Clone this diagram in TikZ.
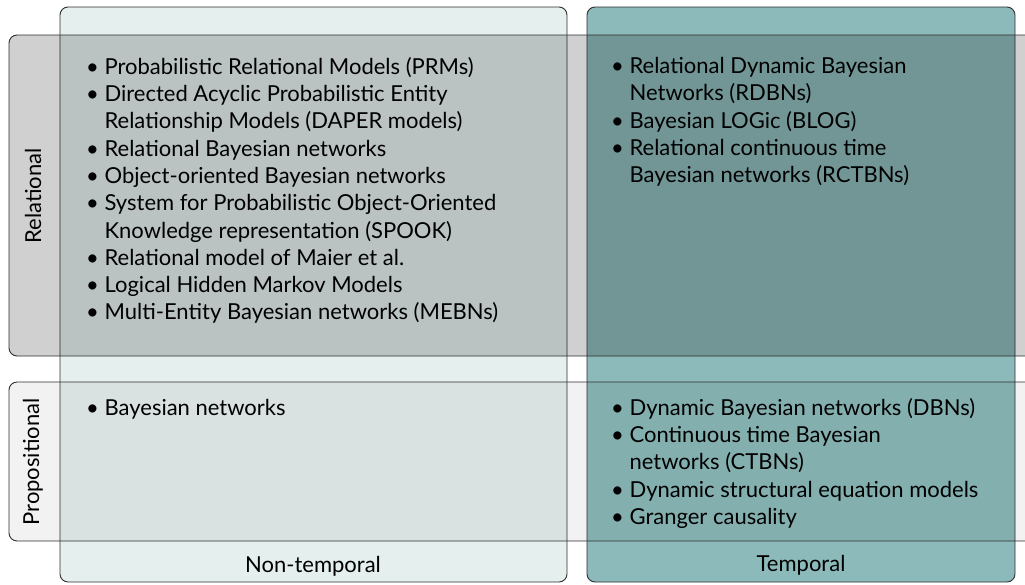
\documentclass[tikz,border=0pt]{standalone}
\usepackage{fontspec}
\setmainfont{Lato}
\definecolor{nontempfill}{HTML}{E5EFEE}
\definecolor{tempfill}{HTML}{8CB9B9}
\definecolor{relfill}{HTML}{D0D0D0}
\definecolor{propfill}{HTML}{F2F2F2}
\definecolor{edgegray}{HTML}{2E2E2E}
\newcommand{\itm}{\textbullet\ }
\newcommand{\cont}{\hphantom{\textbullet\ }}
\tikzset{
  panel/.style={draw=edgegray, line width=0.9pt, rounded corners=8pt},
  itemlist/.style={anchor=north west, align=left, inner sep=0pt,
    font=\fontsize{22}{27.3}\selectfont},
  axislabel/.style={inner sep=0pt, font=\fontsize{22}{26}\selectfont}
}
\begin{document}
\begin{tikzpicture}[x=1pt,y=-1pt]
\useasboundingbox (0,0) rectangle (1025,584);
% columns
\draw[panel, fill=nontempfill] (60,7) rectangle (567,582);
\draw[panel, fill=tempfill] (587,7) rectangle (1015,582);
% rows, laid over the columns
\begin{scope}[blend mode=multiply]
\fill[relfill, rounded corners=8pt] (9,35) rectangle (1045,356);
\fill[propfill, rounded corners=8pt] (9,382) rectangle (1045,541);
\end{scope}
\draw[panel] (9,35) rectangle (1045,356);
\draw[panel] (9,382) rectangle (1045,541);
% axis labels
\node[axislabel, rotate=90] (relational) at (33,196) {Relational};
\node[axislabel, rotate=90] (propositional) at (33,462) {Propositional};
\node[axislabel] (nontemporal) at (313,566) {Non-temporal};
\node[axislabel] (temporal) at (801,565) {Temporal};
% cell contents
\node[itemlist] (relnontemp) at (86,57) {%
  \itm Probabilistic Relational Models (PRMs)\\
  \itm Directed Acyclic Probabilistic Entity\\
  \cont Relationship Models (DAPER models)\\
  \itm Relational Bayesian networks\\
  \itm Object-oriented Bayesian networks\\
  \itm System for Probabilistic Object-Oriented\\
  \cont Knowledge representation (SPOOK)\\
  \itm Relational model of Maier et al.\\
  \itm Logical Hidden Markov Models\\
  \itm Multi-Entity Bayesian networks (MEBNs)};
\node[itemlist] (reltemp) at (611,57) {%
  \itm Relational Dynamic Bayesian\\
  \cont Networks (RDBNs)\\
  \itm Bayesian LOGic (BLOG)\\
  \itm Relational continuous time\\
  \cont Bayesian networks (RCTBNs)};
\node[itemlist] (propnontemp) at (86,399) {%
  \itm Bayesian networks};
\node[itemlist] (proptemp) at (611,398) {%
  \itm Dynamic Bayesian networks (DBNs)\\
  \itm Continuous time Bayesian\\
  \cont networks (CTBNs)\\
  \itm Dynamic structural equation models\\
  \itm Granger causality};
\end{tikzpicture}
\end{document}
